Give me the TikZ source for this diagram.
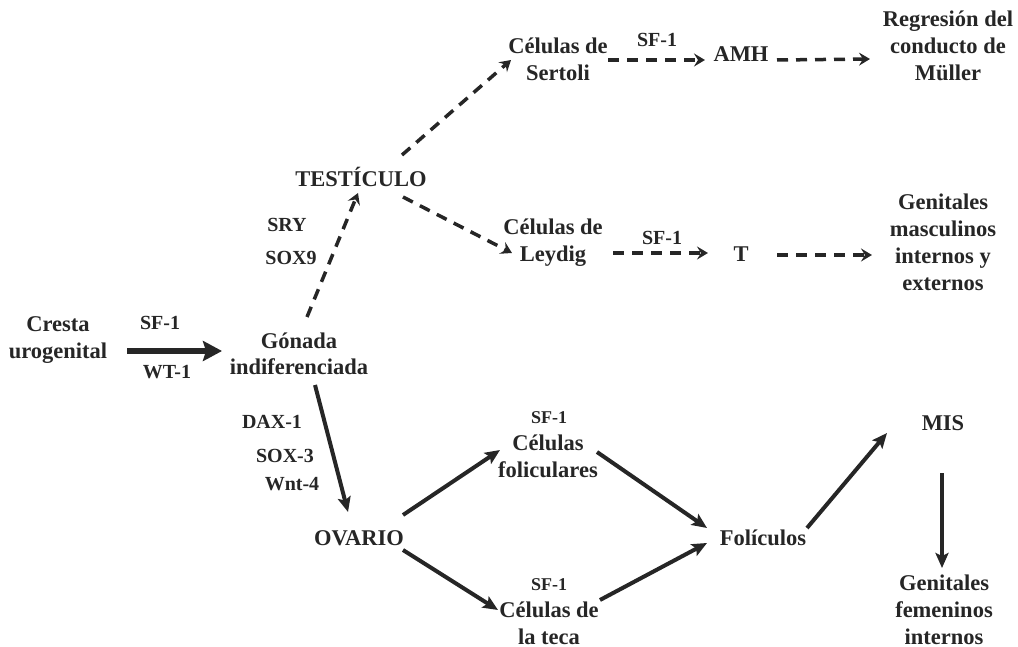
\documentclass[tikz,border=0pt]{standalone}
\usepackage{fontspec}
\setmainfont{Liberation Serif}
\usetikzlibrary{arrows.meta}
\definecolor{ink}{HTML}{262626}
\newcommand{\mlines}[1]{\begin{tabular}[t]{@{}c@{}}#1\end{tabular}}
\begin{document}
\begin{tikzpicture}[x=1pt,y=-1pt,
  txt/.style={inner sep=0pt,anchor=base,text=ink,font=\fontsize{22.5}{27}\selectfont\bfseries},
  lbl/.style={inner sep=0pt,anchor=base,text=ink,font=\fontsize{20}{24}\selectfont\bfseries},
  slbl/.style={inner sep=0pt,anchor=base,text=ink,font=\fontsize{18}{22}\selectfont\bfseries},
  solidarr/.style={draw=ink,line width=4pt,-{Stealth[length=15pt,width=13pt,inset=3pt]}},
  bigarr/.style={draw=ink,line width=6.5pt,-{Stealth[length=19pt,width=20pt,inset=3pt]}},
  dasharr/.style={draw=ink,line width=3.5pt,dash pattern=on 11pt off 8pt,-{Stealth[length=11pt,width=13pt,inset=4pt]}}]
\useasboundingbox (0,0) rectangle (1018,647);

% main nodes
\node[txt] (cresta) at (58,331) {\mlines{Cresta\\urogenital}};
\node[txt] (gonada) at (299,348) {\mlines{Gónada\\indiferenciada}};
\node[txt] (tes) at (361,187) {TESTÍCULO};
\node[txt] (sertoli) at (558,54) {\mlines{Células de\\Sertoli}};
\node[txt] (amh) at (741,62) {AMH};
\node[txt] (regresion) at (948,27) {\mlines{Regresión del\\conducto de\\Müller}};
\node[txt] (leydig) at (553,235) {\mlines{Células de\\Leydig}};
\node[txt] (T) at (741,262) {T};
\node[txt] (gmasc) at (943,210) {\mlines{Genitales\\masculinos\\internos y\\externos}};
\node[txt] (ovario) at (359,545) {OVARIO};
\node[txt] (foliculares) at (548,450) {\mlines{Células\\foliculares}};
\node[txt] (teca) at (549,617) {\mlines{Células de\\la teca}};
\node[txt] (foliculos) at (763,545) {Folículos};
\node[txt] (mis) at (943,430) {MIS};
\node[txt] (gfem) at (944,590) {\mlines{Genitales\\femeninos\\internos}};

% labels
\node[lbl] (sf1a) at (160,330) {SF-1};
\node[lbl] (wt1) at (167,378) {WT-1};
\node[lbl] (sry) at (287,232) {SRY};
\node[lbl] (sox9) at (291,265) {SOX9};
\node[lbl] (sf1s) at (657,47) {SF-1};
\node[lbl] (sf1l) at (662,245) {SF-1};
\node[lbl] (dax) at (272,428) {DAX-1};
\node[lbl] (sox3) at (285,462) {SOX-3};
\node[lbl] (wnt) at (292,490) {Wnt-4};
\node[slbl] (sf1f) at (549,423) {SF-1};
\node[slbl] (sf1t) at (549,590) {SF-1};

% connectors
\draw[bigarr] ([shift={(69,20)}]cresta.base) -- ([shift={(-77,3)}]gonada.base);
\draw[dasharr] ([shift={(8,-31)}]gonada.base) -- ([shift={(-3,6)}]tes.base);
\draw[dasharr] ([shift={(41,-32)}]tes.base) -- ([shift={(-47,6)}]sertoli.base);
\draw[dasharr] ([shift={(42,10)}]tes.base) -- ([shift={(-41,18)}]leydig.base);
\draw[dasharr] ([shift={(50,6)}]sertoli.base) -- ([shift={(-36,-2)}]amh.base);
\draw[dasharr] ([shift={(36,-2)}]amh.base) -- ([shift={(-78,32)}]regresion.base);
\draw[dasharr] ([shift={(60,18)}]leydig.base) -- ([shift={(-33,-9)}]T.base);
\draw[dasharr] ([shift={(36,-7)}]T.base) -- ([shift={(-71,45)}]gmasc.base);
\draw[solidarr] ([shift={(16,37)}]gonada.base) -- ([shift={(-11,-33)}]ovario.base);
\draw[solidarr] ([shift={(44,-30)}]ovario.base) -- ([shift={(-48,0)}]foliculares.base);
\draw[solidarr] ([shift={(44,5)}]ovario.base) -- ([shift={(-51,-7)}]teca.base);
\draw[solidarr] ([shift={(49,2)}]foliculares.base) -- ([shift={(-56,-17)}]foliculos.base);
\draw[solidarr] ([shift={(51,-17)}]teca.base) -- ([shift={(-56,-2)}]foliculos.base);
\draw[solidarr] ([shift={(44,-17)}]foliculos.base) -- ([shift={(-56,3)}]mis.base);
\draw[solidarr] ([shift={(-1,43)}]mis.base) -- ([shift={(-2,-22)}]gfem.base);
\end{tikzpicture}
\end{document}
